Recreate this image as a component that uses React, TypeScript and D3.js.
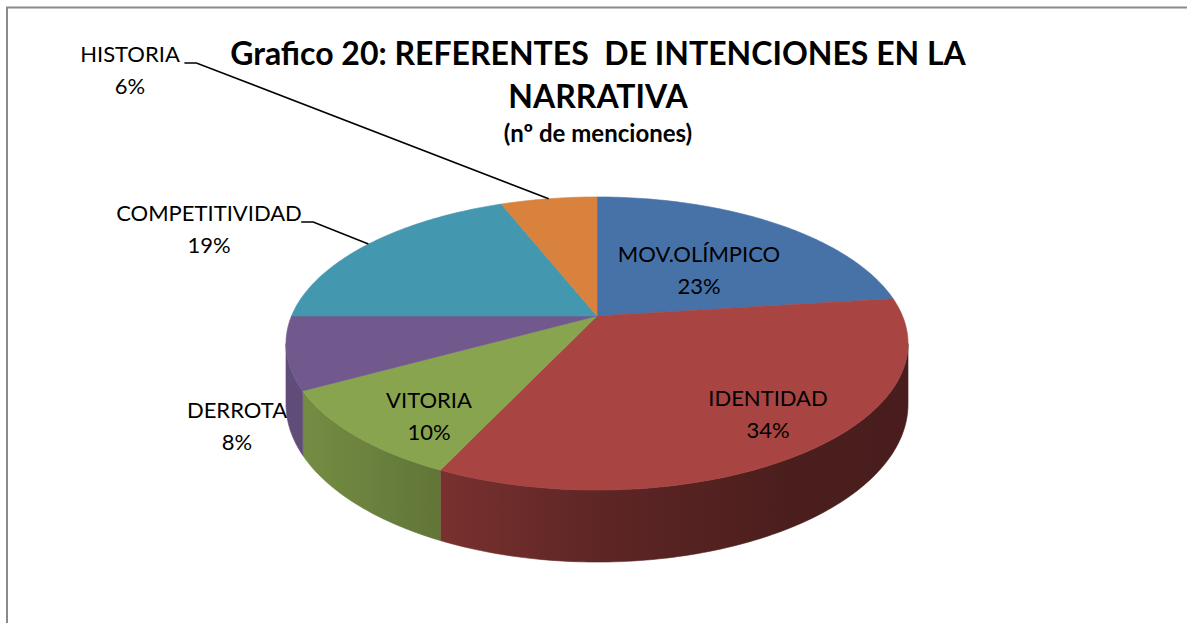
import * as d3 from 'd3';

// chart data
const categories = ['MOV.OLÍMPICO', 'IDENTIDAD', 'VITORIA', 'DERROTA', 'COMPETITIVIDAD', 'HISTORIA'];
const shares = [23, 34, 10, 8, 19, 6];
const colors = ['#4672a8', '#a84442', '#88a44e', '#71598e', '#4397ae', '#d8823e'];
const titleLines = ['Grafico 20: REFERENTES  DE INTENCIONES EN LA', 'NARRATIVA'];
const subtitle = '(nº de menciones)';

const W = 1187;
const H = 623;

// perspective pie layout
const cx = 597;
const cy = 316;
const Fx = 305.5;
const Fy = 141.4;
const k = 0.1876; // perspective strength
const thick = 58.5;

// where each label block is centred
const labelLayout: Record<string, { x: number; y: number; leader?: boolean }> = {
  'MOV.OLÍMPICO': { x: 699, y: 270 },
  IDENTIDAD: { x: 768, y: 414 },
  VITORIA: { x: 429, y: 416 },
  DERROTA: { x: 237, y: 426 },
  COMPETITIVIDAD: { x: 209, y: 229, leader: true },
  HISTORIA: { x: 130, y: 70, leader: true },
};

const sx = d3.scaleLinear().domain([-1, 1]).range([cx - Fx, cx + Fx]);
const sy = d3.scaleLinear().domain([-1, 1]).range([cy - Fy, cy + Fy]);

const project = (theta: number, r = 1, drop = 0): [number, number] => {
  const x = Math.sin(theta) * r;
  const z = -Math.cos(theta) * r;
  const w = 1 - k * z;
  return [sx(x / w), sy(z / w) + drop / w];
};

const line = d3.line<[number, number]>();

const arcPoints = (a0: number, a1: number, r = 1, drop = 0) => {
  const n = Math.max(2, Math.ceil(((a1 - a0) * 180) / Math.PI));
  return d3.range(n + 1).map((i) => project(a0 + ((a1 - a0) * i) / n, r, drop));
};

// wall shading across the width of the pie
const shade = d3
  .scaleLinear<number>()
  .domain([286, 320, 455, 600, 780, 908])
  .range([0.86, 0.84, 0.7, 0.56, 0.45, 0.43])
  .clamp(true);

const darken = (c: string, f: number) => {
  const rgb = d3.rgb(c);
  return d3.rgb(rgb.r * f, rgb.g * f, rgb.b * f).formatHex();
};

export default function App() {
  const pie = d3
    .pie<number>()
    .sort(null)
    .value((d) => d);
  const arcs = pie(shares);

  const visA = Math.acos(-k);
  const visB = 2 * Math.PI - visA;

  const gradStops = d3.range(286, 909, 24);

  return (
    <svg
      width={W}
      height={H}
      style={{ position: 'absolute', left: 0, top: 0, background: '#fff' }}
      fontFamily="Lato, 'Open Sans', sans-serif"
    >
      <defs>
        {colors.map((c, i) => (
          <linearGradient
            key={c}
            id={`wall-${i}`}
            gradientUnits="userSpaceOnUse"
            x1={286}
            x2={908}
            y1={0}
            y2={0}
          >
            {gradStops.map((x) => (
              <stop key={x} offset={(x - 286) / (908 - 286)} stopColor={darken(c, shade(x))} />
            ))}
          </linearGradient>
        ))}
      </defs>
      <rect x={0} y={0} width={W} height={H} fill="#fff" />
      <path d={`M7,${H} V7.5 H${W}`} fill="none" stroke="#8a8a8a" strokeWidth={2} />

      {/* side walls */}
      {arcs.map((a, i) => {
        const a0 = Math.max(a.startAngle, visA);
        const a1 = Math.min(a.endAngle, visB);
        if (a1 <= a0) return null;
        const top = arcPoints(a0, a1);
        const bottom = arcPoints(a0, a1, 1, thick).reverse();
        return (
          <path
            key={`wall-${categories[i]}`}
            d={`${line([...top, ...bottom])}Z`}
            fill={`url(#wall-${i})`}
            stroke={`url(#wall-${i})`}
            strokeWidth={0.6}
          />
        );
      })}

      {/* top faces */}
      {arcs.map((a, i) => (
        <path
          key={`top-${categories[i]}`}
          d={`${line([[cx, cy], ...arcPoints(a.startAngle, a.endAngle)])}Z`}
          fill={colors[i]}
          stroke={colors[i]}
          strokeWidth={0.6}
        />
      ))}

      {/* leader lines */}
      {arcs.map((a, i) => {
        const lay = labelLayout[categories[i]];
        if (!lay.leader) return null;
        const mid = (a.startAngle + a.endAngle) / 2;
        const end = project(mid);
        const half = categories[i].length * 6.3;
        const x0 = lay.x + half + 4;
        const y0 = lay.y - 7;
        return (
          <polyline
            key={`leader-${categories[i]}`}
            points={`${x0},${y0} ${x0 + 12},${y0} ${end[0]},${end[1]}`}
            fill="none"
            stroke="#000"
            strokeWidth={1.6}
          />
        );
      })}

      {/* labels */}
      {categories.map((c, i) => {
        const lay = labelLayout[c];
        return (
          <text key={`lab-${c}`} textAnchor="middle" fontSize={22} fill="#000">
            <tspan x={lay.x} y={lay.y - 8}>
              {c}
            </tspan>
            <tspan x={lay.x} y={lay.y + 24}>
              {`${shares[i]}%`}
            </tspan>
          </text>
        );
      })}

      {/* title */}
      <text textAnchor="middle" fontWeight="bold" fill="#000">
        <tspan x={598} y={65} fontSize={32} style={{ whiteSpace: 'pre' }}>
          {titleLines[0]}
        </tspan>
        <tspan x={598} y={108} fontSize={32}>
          {titleLines[1]}
        </tspan>
        <tspan x={598} y={142} fontSize={24}>
          {subtitle}
        </tspan>
      </text>
    </svg>
  );
}
